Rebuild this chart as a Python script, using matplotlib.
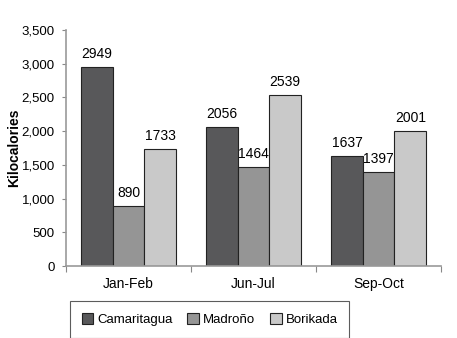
import matplotlib.pyplot as plt
import numpy as np

periods = ['Jan-Feb', 'Jun-Jul', 'Sep-Oct']
camaritagua = [2949, 2056, 1637]
madrono = [890, 1464, 1397]
borikada = [1733, 2539, 2001]

plt.rcParams['font.family'] = ['Liberation Sans', 'DejaVu Sans']

fig = plt.figure(figsize=(4.57, 3.38), dpi=100)
ax = fig.add_axes([0.1444, 0.213, 0.821, 0.698])

x = np.arange(len(periods))
w = 0.253
series = [(camaritagua, '#58585a', 'Camaritagua'),
          (madrono, '#959595', 'Madroño'),
          (borikada, '#c9c9c9', 'Borikada')]
for i, (vals, col, name) in enumerate(series):
    bars = ax.bar(x + (i - 1) * w, vals, w, color=col, edgecolor='#222222',
                  linewidth=0.8, label=name)
    for b, v in zip(bars, vals):
        ax.text(b.get_x() + b.get_width() / 2, v + 90, str(v),
                ha='center', va='bottom', fontsize=10)

ax.set_xlim(-0.5, 2.5)
ax.set_ylim(0, 3500)
ax.set_yticks(range(0, 3501, 500))
ax.set_yticklabels([f'{v:,}' for v in range(0, 3501, 500)], fontsize=9.5)
ax.set_xticks([-0.5, 0.5, 1.5, 2.5])
ax.set_xticklabels([])
ax.set_xticks(x, minor=True)
ax.set_xticklabels(periods, minor=True, fontsize=10)
ax.tick_params(axis='x', which='minor', length=0, pad=8)
ax.tick_params(axis='x', which='major', length=4, color='#888888')
ax.tick_params(axis='y', length=3, color='#888888', pad=5)
for s in ['top', 'right']:
    ax.spines[s].set_visible(False)
for s in ['left', 'bottom']:
    ax.spines[s].set_color('#999999')
    ax.spines[s].set_linewidth(1.2)
ax.set_ylabel('Kilocalories', fontsize=10, fontweight='bold')
ax.yaxis.set_label_coords(-0.12, 0.5)

leg = fig.legend(loc='lower left', bbox_to_anchor=(0.138, -0.02), ncol=3,
                 fontsize=9.5, frameon=True, fancybox=False, edgecolor='#333333',
                 handlelength=0.9, handleheight=0.9, handletextpad=0.3,
                 columnspacing=1.1, borderpad=0.9)
leg.get_frame().set_linewidth(0.8)

fig.savefig('out.png', dpi=100)
